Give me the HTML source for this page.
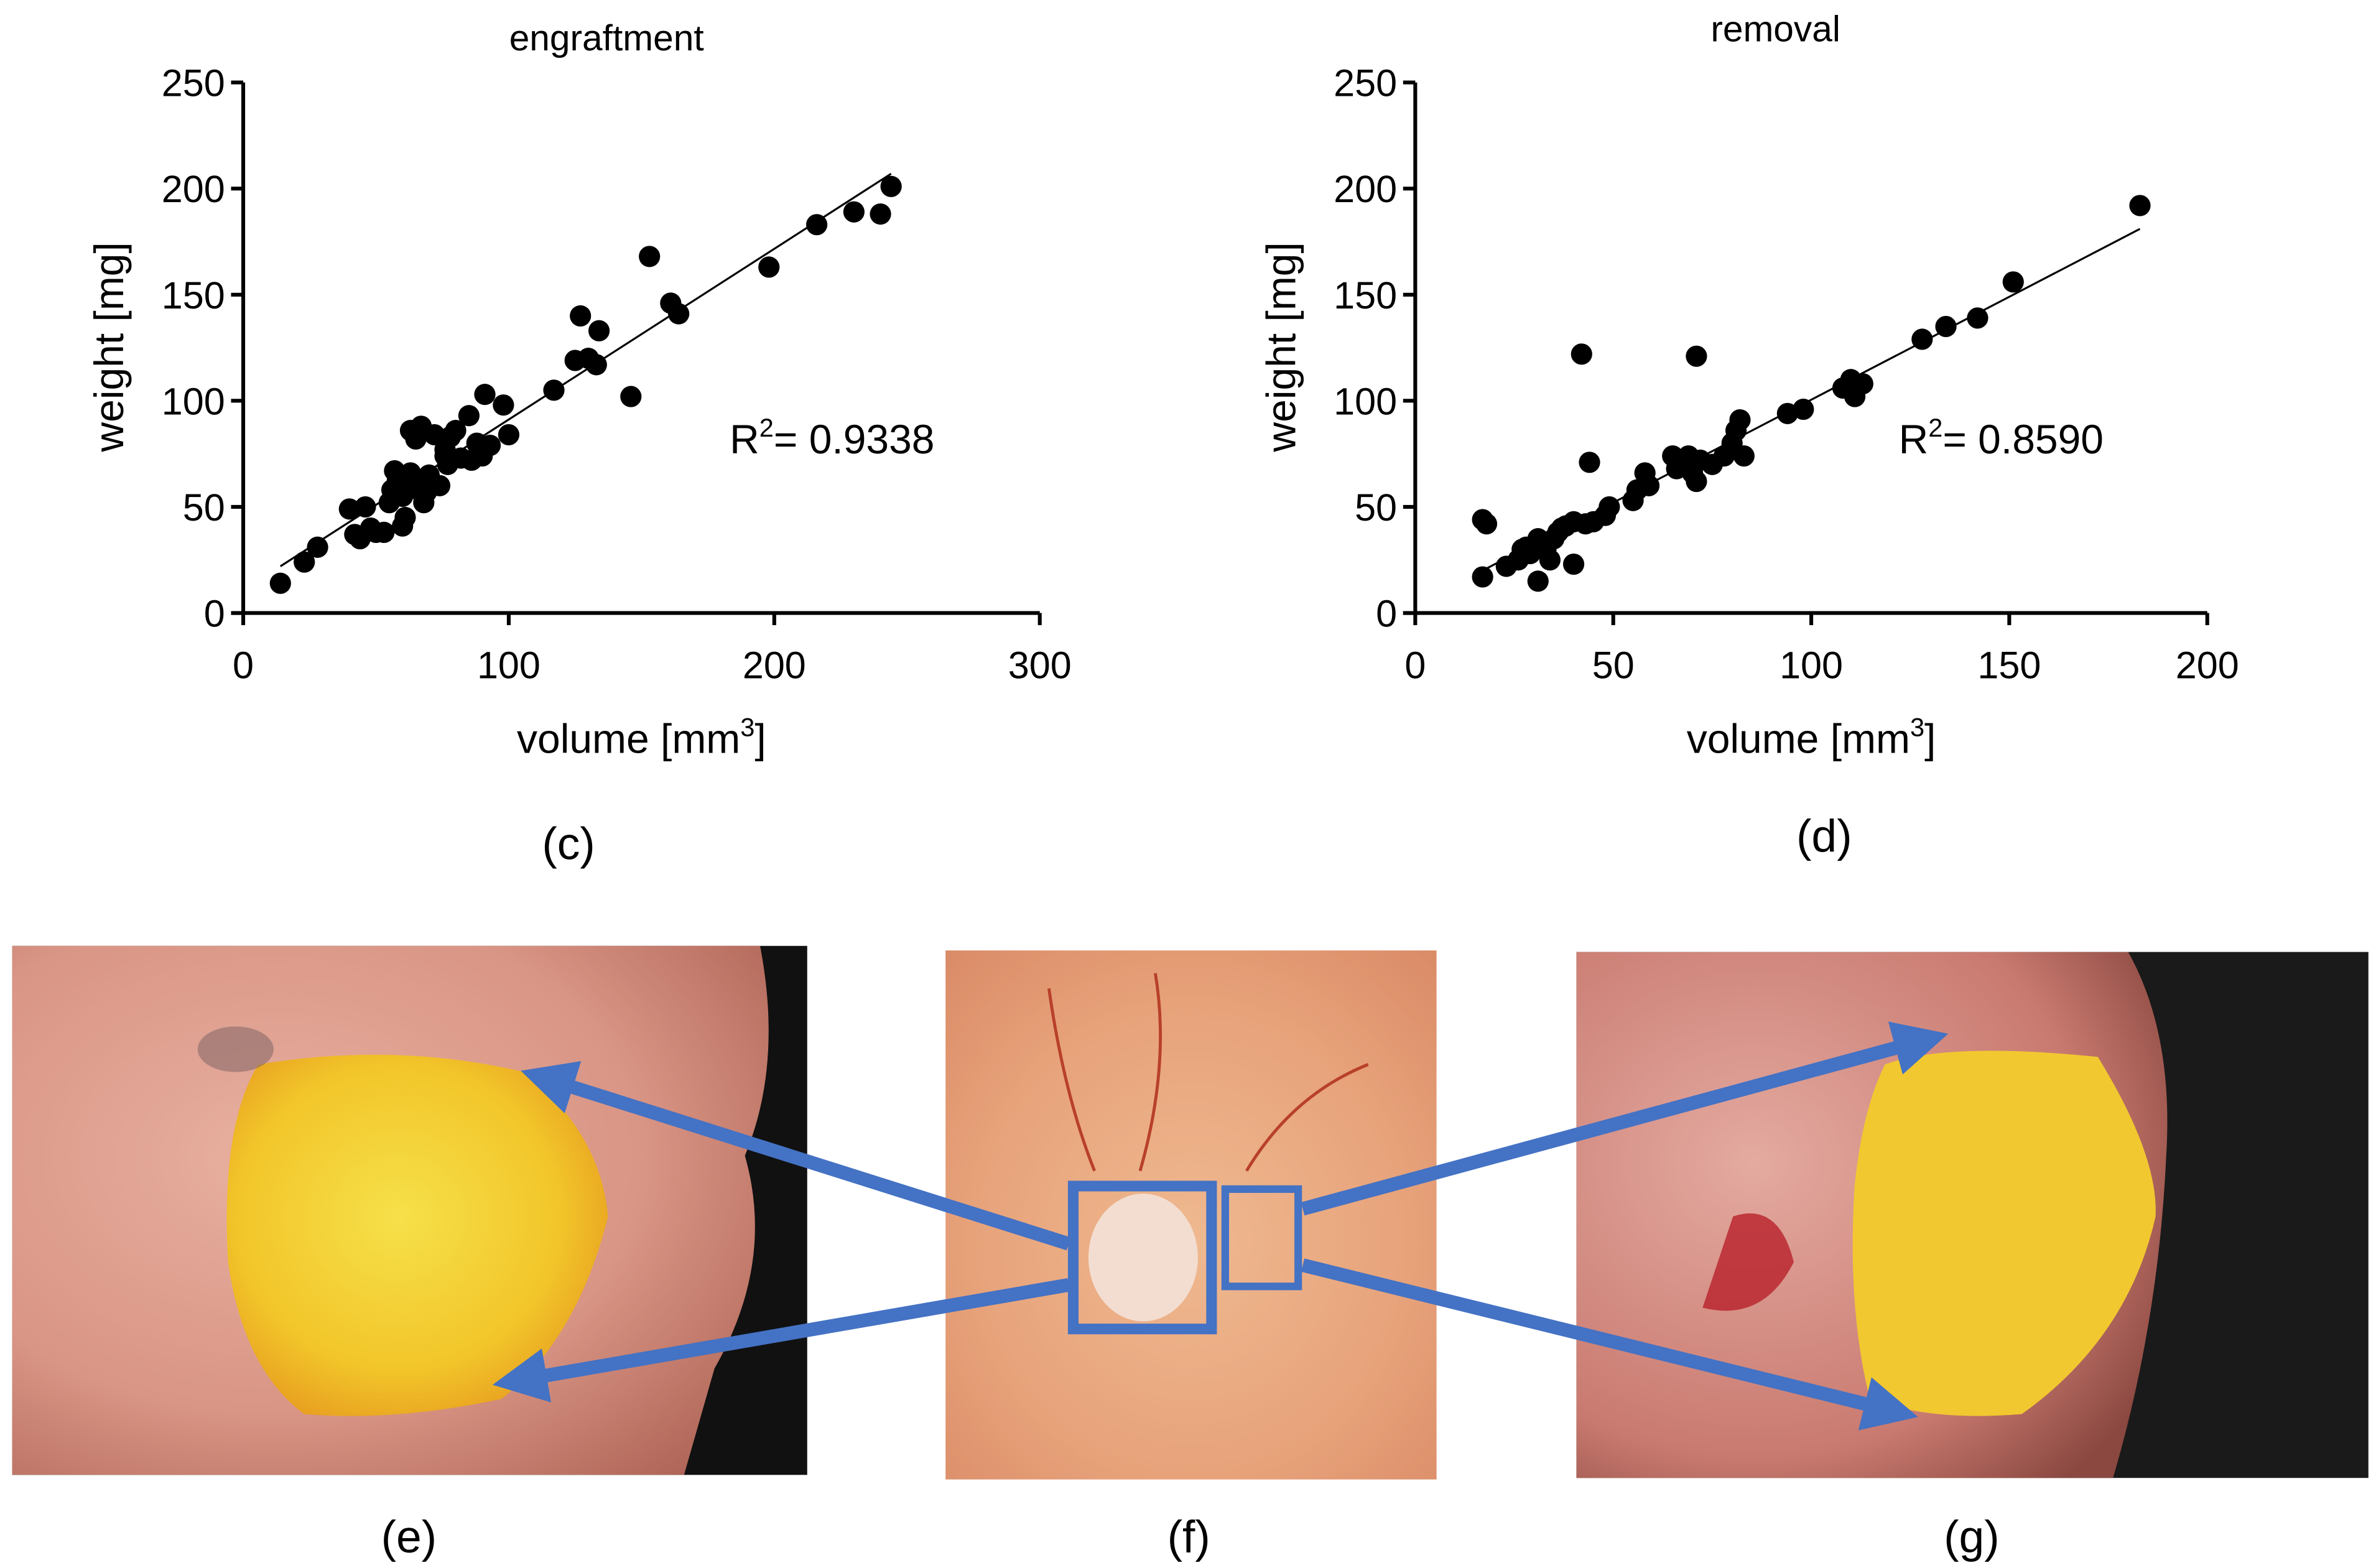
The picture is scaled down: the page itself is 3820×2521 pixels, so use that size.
<!DOCTYPE html>
<html><head><meta charset="utf-8"><style>
html,body{margin:0;padding:0;background:#fff;}
svg{display:block;}
text{font-family:"Liberation Sans",sans-serif;}
</style></head><body>
<svg id="fig" width="3820" height="2521" viewBox="0 0 1563 1031" xmlns="http://www.w3.org/2000/svg">
<defs>
<radialGradient id="tis1" cx="0.35" cy="0.4" r="0.8"><stop offset="0" stop-color="#e8b0a0"/><stop offset="0.6" stop-color="#d99585"/><stop offset="1" stop-color="#b06658"/></radialGradient>
<radialGradient id="yel" cx="0.45" cy="0.45" r="0.6"><stop offset="0" stop-color="#f6e04a"/><stop offset="0.7" stop-color="#f2c62a"/><stop offset="1" stop-color="#e8a020"/></radialGradient>
<radialGradient id="tisf" cx="0.5" cy="0.55" r="0.75"><stop offset="0" stop-color="#efb990"/><stop offset="0.6" stop-color="#e7a27a"/><stop offset="1" stop-color="#d98a66"/></radialGradient>
<radialGradient id="tisg" cx="0.3" cy="0.4" r="0.8"><stop offset="0" stop-color="#e4aaa0"/><stop offset="0.7" stop-color="#c97a70"/><stop offset="1" stop-color="#8a4840"/></radialGradient>
<marker id="ah" markerWidth="4" markerHeight="4" refX="2.2" refY="2" orient="auto" markerUnits="strokeWidth"><path d="M0,0 L4,2 L0,4 z" fill="#4472c4"/></marker>
</defs>
<g id="chartC"></g>
<g id="chartD"></g>

<!-- panel e -->
<g>
<rect x="8" y="622" width="523" height="348" fill="#111"/>
<path d="M8,622 L500,622 Q515,700 490,760 Q510,830 470,900 L450,970 L8,970 Z" fill="url(#tis1)"/>
<path d="M170,700 Q260,685 345,705 Q395,745 400,800 Q380,880 330,920 Q260,935 200,930 Q160,900 150,830 Q145,740 170,700 Z" fill="url(#yel)"/>
<ellipse cx="155" cy="690" rx="25" ry="15" fill="#8a6a6a" opacity="0.6"/>
</g>
<!-- panel f -->
<g>
<rect x="622" y="625" width="323" height="348" fill="url(#tisf)"/>
<path d="M690,650 Q700,720 720,770 M760,640 Q770,700 750,770 M900,700 Q850,720 820,770" stroke="#b8402a" stroke-width="2" fill="none"/>
<ellipse cx="752" cy="827" rx="36" ry="42" fill="#f3ddd0"/>
<rect x="706" y="780" width="91" height="94" fill="none" stroke="#4472c4" stroke-width="7"/>
<rect x="806" y="782" width="48" height="64" fill="none" stroke="#4472c4" stroke-width="5"/>
</g>
<!-- panel g -->
<g>
<rect x="1037" y="626" width="521" height="346" fill="#1a1a1a"/>
<path d="M1037,626 L1400,626 Q1430,680 1425,760 Q1420,870 1390,972 L1037,972 Z" fill="url(#tisg)"/>
<path d="M1240,700 Q1280,685 1380,695 Q1420,760 1418,800 Q1400,880 1330,930 Q1270,935 1230,920 Q1215,860 1220,780 Q1225,730 1240,700 Z" fill="#f2c830"/>
<path d="M1140,800 Q1170,790 1180,830 Q1160,870 1120,860 Z" fill="#b8202a" opacity="0.8"/>
</g>
<g stroke="#4472c4" stroke-width="9" fill="none">
<line x1="703" y1="818" x2="358" y2="709" marker-end="url(#ah)"/>
<line x1="703" y1="845" x2="340" y2="908" marker-end="url(#ah)"/>
<line x1="857" y1="795" x2="1266" y2="684" marker-end="url(#ah)"/>
<line x1="857" y1="832" x2="1246" y2="928" marker-end="url(#ah)"/>
</g>
<g font-size="30" text-anchor="middle" fill="#000">
<text x="374" y="565">(c)</text>
<text x="1200" y="560">(d)</text>
<text x="269" y="1021">(e)</text>
<text x="782" y="1021">(f)</text>
<text x="1297" y="1021">(g)</text>
</g>
</svg>
<script>
const NS="http://www.w3.org/2000/svg";
const cVol=[14,23,28,40,42,44,46,48,50,53,55,56,57,58,60,60,61,62,63,63,65,66,67,68,69,70,72,74,76,76,77,78,80,82,85,86,88,90,91,93,98,100,117,125,127,130,133,134,146,153,161,164,198,216,230,240,244];
const cWt=[14,24,31,49,37,35,50,40,38,38,52,58,67,62,55,41,45,63,66,86,82,58,88,52,57,65,84,60,74,77,70,83,86,73,93,72,80,74,103,79,98,84,105,119,140,120,117,133,102,168,146,141,163,183,189,188,201];
const cFit=[[14,22],[244,207]];
const cXTicks=[0,100,200,300];
const dVol=[17,17,18,23,26,27,28,29,31,31,32,33,34,35,36,37,38,40,40,42,43,44,45,48,49,55,56,58,59,65,66,68,69,70,71,71,72,75,78,80,81,82,83,94,98,108,110,111,113,128,134,142,151,183];
const dWt=[44,17,42,22,25,30,31,28,15,35,32,30,25,35,38,40,41,43,23,122,42,71,43,46,50,53,58,66,60,74,68,70,74,66,121,62,72,70,74,80,86,91,74,94,96,106,110,102,108,129,135,139,156,192];
const dFit=[[17,20],[183,181]];
const dXTicks=[0,50,100,150,200];
const yTicks=[0,50,100,150,200,250];

function el(tag,attrs,parent,txt){const e=document.createElementNS(NS,tag);for(const k in attrs)e.setAttribute(k,attrs[k]);if(txt!==undefined)e.textContent=txt;parent.appendChild(e);return e;}

function chart(g,x0,xMax,xPx,vols,wts,fit,xTicks,title,titleX,titleY,r2,r2x){
  const y0=403,yTop=54;
  const sx=v=>x0+(xPx-x0)*v/xMax;
  const sy=v=>y0-(y0-yTop)*v/250;
  const t=el('text',{x:titleX,y:titleY,'font-size':24,'text-anchor':'middle'},g,title);
  
  
  const ya=el('line',{x1:x0,y1:y0,x2:x0,y2:yTop,stroke:'#000','stroke-width':2.5},g);
  
  
  const xa=el('line',{x1:x0-8,y1:y0,x2:xPx,y2:y0,stroke:'#000','stroke-width':2.5},g);
  
  
  yTicks.forEach(v=>{
    el('line',{x1:x0-8,y1:sy(v),x2:x0,y2:sy(v),stroke:'#000','stroke-width':2.5},g);
    const l=el('text',{x:x0-12,y:sy(v)+9,'font-size':25,'text-anchor':'end'},g,String(v));
    
    
  });
  xTicks.forEach(v=>{
    el('line',{x1:sx(v),y1:y0,x2:sx(v),y2:y0+8,stroke:'#000','stroke-width':2.5},g);
    const l=el('text',{x:sx(v),y:y0+43,'font-size':25,'text-anchor':'middle'},g,String(v));
    
    
  });
  const xt=el('text',{x:(x0+xPx)/2,y:495,'font-size':27,'text-anchor':'middle'},g);
  
  
  xt.innerHTML='volume [mm<tspan dy="-11" font-size="17">3</tspan><tspan dy="11">]</tspan>';
  const yt=el('text',{x:0,y:0,'font-size':27,'text-anchor':'middle',transform:`translate(${x0-79},228) rotate(-90)`},g,'weight [mg]');
  
  
  const fl=el('line',{x1:sx(fit[0][0]),y1:sy(fit[0][1]),x2:sx(fit[1][0]),y2:sy(fit[1][1]),stroke:'#000','stroke-width':1.3},g);
  
  
  vols.forEach((v,i)=>{
    const c=el('circle',{cx:sx(v),cy:sy(wts[i]),r:7,fill:'#000'},g);
    
    
  });
  const r=el('text',{x:r2x,y:298,'font-size':27},g);
  
  
  r.innerHTML='R<tspan dy="-11" font-size="17">2</tspan><tspan dy="11">= '+r2+'</tspan>';
}
chart(document.getElementById('chartC'),160,300,684,cVol,cWt,cFit,cXTicks,'engraftment',399,33,'0.9338',480);
chart(document.getElementById('chartD'),931,200,1452,dVol,dWt,dFit,dXTicks,'removal',1168,27,'0.8590',1249);
</script>
</body></html>
